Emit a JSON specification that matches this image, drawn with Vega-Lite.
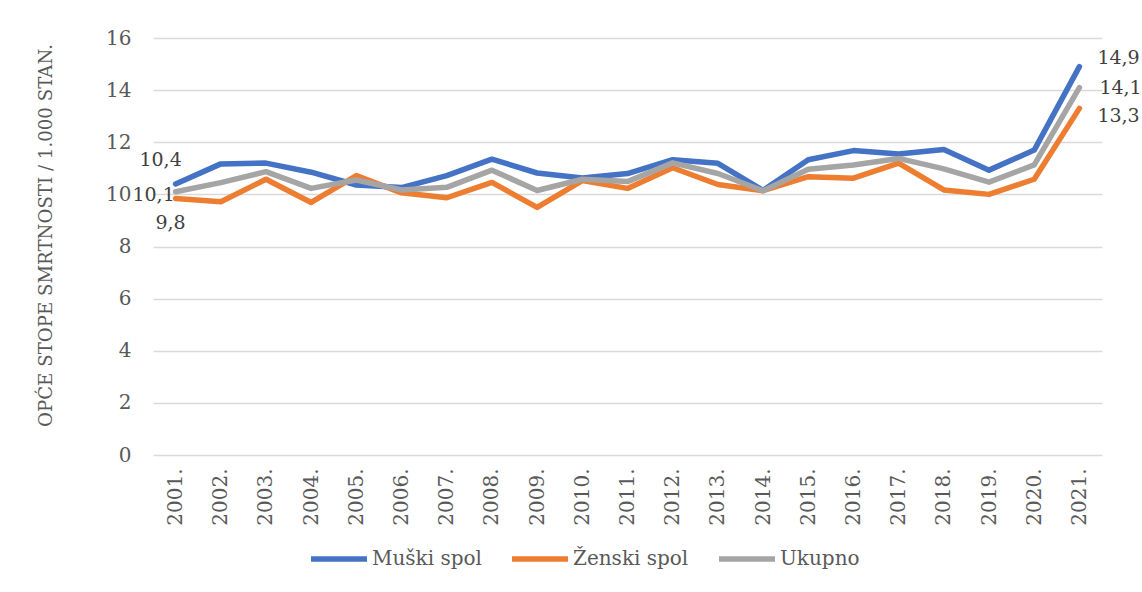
{
  "$schema": "https://vega.github.io/schema/vega-lite/v6.json",
  "width": 949,
  "height": 417,
  "autosize": "none",
  "padding": {"left": 153, "top": 38, "right": 40, "bottom": 137},
  "background": "white",
  "config": {
    "locale": {"number": {"decimal": ",", "thousands": ".", "grouping": [3], "currency": ["", ""]}},
    "font": "DejaVu Serif",
    "view": {"stroke": null}
  },
  "datasets": {
    "d": [
      {"year": "2001.", "series": "Muški spol", "value": 10.4},
      {"year": "2002.", "series": "Muški spol", "value": 11.17},
      {"year": "2003.", "series": "Muški spol", "value": 11.2},
      {"year": "2004.", "series": "Muški spol", "value": 10.85},
      {"year": "2005.", "series": "Muški spol", "value": 10.36},
      {"year": "2006.", "series": "Muški spol", "value": 10.26},
      {"year": "2007.", "series": "Muški spol", "value": 10.72},
      {"year": "2008.", "series": "Muški spol", "value": 11.35},
      {"year": "2009.", "series": "Muški spol", "value": 10.82},
      {"year": "2010.", "series": "Muški spol", "value": 10.63},
      {"year": "2011.", "series": "Muški spol", "value": 10.8},
      {"year": "2012.", "series": "Muški spol", "value": 11.33},
      {"year": "2013.", "series": "Muški spol", "value": 11.19},
      {"year": "2014.", "series": "Muški spol", "value": 10.15},
      {"year": "2015.", "series": "Muški spol", "value": 11.33},
      {"year": "2016.", "series": "Muški spol", "value": 11.68},
      {"year": "2017.", "series": "Muški spol", "value": 11.55},
      {"year": "2018.", "series": "Muški spol", "value": 11.72},
      {"year": "2019.", "series": "Muški spol", "value": 10.93},
      {"year": "2020.", "series": "Muški spol", "value": 11.7},
      {"year": "2021.", "series": "Muški spol", "value": 14.9},
      {"year": "2001.", "series": "Ženski spol", "value": 9.84},
      {"year": "2002.", "series": "Ženski spol", "value": 9.72},
      {"year": "2003.", "series": "Ženski spol", "value": 10.58},
      {"year": "2004.", "series": "Ženski spol", "value": 9.69},
      {"year": "2005.", "series": "Ženski spol", "value": 10.72},
      {"year": "2006.", "series": "Ženski spol", "value": 10.06},
      {"year": "2007.", "series": "Ženski spol", "value": 9.87},
      {"year": "2008.", "series": "Ženski spol", "value": 10.46},
      {"year": "2009.", "series": "Ženski spol", "value": 9.5},
      {"year": "2010.", "series": "Ženski spol", "value": 10.53},
      {"year": "2011.", "series": "Ženski spol", "value": 10.23},
      {"year": "2012.", "series": "Ženski spol", "value": 11.02},
      {"year": "2013.", "series": "Ženski spol", "value": 10.38},
      {"year": "2014.", "series": "Ženski spol", "value": 10.14},
      {"year": "2015.", "series": "Ženski spol", "value": 10.68},
      {"year": "2016.", "series": "Ženski spol", "value": 10.62},
      {"year": "2017.", "series": "Ženski spol", "value": 11.2},
      {"year": "2018.", "series": "Ženski spol", "value": 10.17},
      {"year": "2019.", "series": "Ženski spol", "value": 10.0},
      {"year": "2020.", "series": "Ženski spol", "value": 10.58},
      {"year": "2021.", "series": "Ženski spol", "value": 13.3},
      {"year": "2001.", "series": "Ukupno", "value": 10.1},
      {"year": "2002.", "series": "Ukupno", "value": 10.45},
      {"year": "2003.", "series": "Ukupno", "value": 10.87},
      {"year": "2004.", "series": "Ukupno", "value": 10.23},
      {"year": "2005.", "series": "Ukupno", "value": 10.55},
      {"year": "2006.", "series": "Ukupno", "value": 10.17},
      {"year": "2007.", "series": "Ukupno", "value": 10.27},
      {"year": "2008.", "series": "Ukupno", "value": 10.93},
      {"year": "2009.", "series": "Ukupno", "value": 10.15},
      {"year": "2010.", "series": "Ukupno", "value": 10.58},
      {"year": "2011.", "series": "Ukupno", "value": 10.49},
      {"year": "2012.", "series": "Ukupno", "value": 11.21},
      {"year": "2013.", "series": "Ukupno", "value": 10.8},
      {"year": "2014.", "series": "Ukupno", "value": 10.14},
      {"year": "2015.", "series": "Ukupno", "value": 10.96},
      {"year": "2016.", "series": "Ukupno", "value": 11.13},
      {"year": "2017.", "series": "Ukupno", "value": 11.38},
      {"year": "2018.", "series": "Ukupno", "value": 10.98},
      {"year": "2019.", "series": "Ukupno", "value": 10.47},
      {"year": "2020.", "series": "Ukupno", "value": 11.13},
      {"year": "2021.", "series": "Ukupno", "value": 14.1}
    ]
  },
  "data": {"name": "d"},
  "encoding": {
    "x": {
      "field": "year", "type": "ordinal", "sort": null,
      "axis": {"title": null, "labelAngle": -90, "labelAlign": "right", "labelBaseline": "middle", "labelPadding": 13, "labelFontSize": 20, "labelColor": "#595959", "ticks": false, "domain": false, "grid": false}
    },
    "y": {
      "field": "value", "type": "quantitative",
      "scale": {"domain": [0, 16], "nice": false},
      "axis": {"title": "OPĆE STOPE SMRTNOSTI / 1.000 STAN.", "titleFont": "DejaVu Serif", "titleFontSize": 18.2, "titleFontWeight": "normal", "titleColor": "#595959", "titlePadding": 50, "titleY": 197, "values": [0, 2, 4, 6, 8, 10, 12, 14, 16], "labelFontSize": 20, "labelColor": "#595959", "labelPadding": 22, "ticks": false, "domain": false, "grid": true, "gridColor": "#d9d9d9", "gridWidth": 1.3}
    }
  },
  "layer": [
    {
      "transform": [{"filter": "datum.series == 'Muški spol'"}],
      "mark": {"type": "line", "strokeWidth": 5.5, "strokeCap": "round", "strokeJoin": "round"},
      "encoding": {
        "color": {
          "field": "series", "type": "nominal",
          "scale": {"domain": ["Muški spol", "Ženski spol", "Ukupno"], "range": ["#4472C4", "#ED7D31", "#A5A5A5"]},
          "legend": {"title": null, "orient": "none", "direction": "horizontal", "legendX": 155, "legendY": 490, "symbolType": "stroke", "symbolSize": 3136, "symbolStrokeWidth": 5.5, "labelFontSize": 20, "labelColor": "#595959", "labelOffset": 2, "columnPadding": 19}
        }
      }
    },
    {
      "transform": [{"filter": "datum.series == 'Ženski spol'"}],
      "mark": {"type": "line", "strokeWidth": 5.5, "strokeCap": "round", "strokeJoin": "round"},
      "encoding": {"color": {"field": "series", "type": "nominal"}}
    },
    {
      "transform": [{"filter": "datum.series == 'Ukupno'"}],
      "mark": {"type": "line", "strokeWidth": 5.5, "strokeCap": "round", "strokeJoin": "round"},
      "encoding": {"color": {"field": "series", "type": "nominal"}}
    },
    {
      "transform": [{"filter": "datum.series == 'Muški spol' && datum.year == '2001.'"}],
      "mark": {"type": "text", "fontSize": 19, "color": "#404040", "dx": -15, "dy": -24},
      "encoding": {"text": {"field": "value", "type": "quantitative", "format": ".1f"}}
    },
    {
      "transform": [{"filter": "datum.series == 'Ukupno' && datum.year == '2001.'"}],
      "mark": {"type": "text", "fontSize": 19, "color": "#404040", "dx": -22, "dy": 3},
      "encoding": {"text": {"field": "value", "type": "quantitative", "format": ".1f"}}
    },
    {
      "transform": [{"filter": "datum.series == 'Ženski spol' && datum.year == '2001.'"}],
      "mark": {"type": "text", "fontSize": 19, "color": "#404040", "dx": -5, "dy": 24},
      "encoding": {"text": {"field": "value", "type": "quantitative", "format": ".1f"}}
    },
    {
      "transform": [{"filter": "datum.series == 'Muški spol' && datum.year == '2021.'"}],
      "mark": {"type": "text", "fontSize": 19, "color": "#404040", "align": "left", "dx": 18, "dy": -9},
      "encoding": {"text": {"field": "value", "type": "quantitative", "format": ".1f"}}
    },
    {
      "transform": [{"filter": "datum.series == 'Ukupno' && datum.year == '2021.'"}],
      "mark": {"type": "text", "fontSize": 19, "color": "#404040", "align": "left", "dx": 20, "dy": 0},
      "encoding": {"text": {"field": "value", "type": "quantitative", "format": ".1f"}}
    },
    {
      "transform": [{"filter": "datum.series == 'Ženski spol' && datum.year == '2021.'"}],
      "mark": {"type": "text", "fontSize": 19, "color": "#404040", "align": "left", "dx": 18, "dy": 8},
      "encoding": {"text": {"field": "value", "type": "quantitative", "format": ".1f"}}
    }
  ]
}
